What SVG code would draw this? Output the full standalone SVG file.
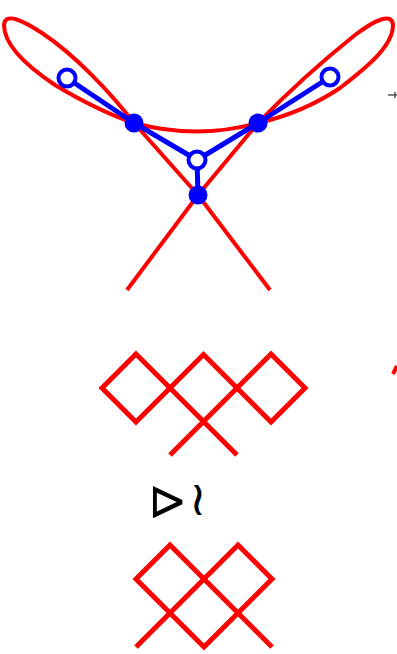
<svg xmlns="http://www.w3.org/2000/svg" width="397" height="654" viewBox="0 0 397 654">
<style>
.red{fill:none;stroke:#ff0000;stroke-width:4;stroke-linejoin:round}
.redd{fill:none;stroke:#ff0000;stroke-width:5;stroke-linejoin:miter}
.edge{stroke:#0000ff;stroke-width:5;fill:none}
.full{fill:#0000ff}
.open{fill:#ffffff;stroke:#0000ff;stroke-width:4}
.sym{font-family:"DejaVu Sans",sans-serif;fill:#000000}
</style>
<rect width="397" height="654" fill="#ffffff"/>
<g id="curve-top">
<path class="red" d="M134,123 C110,92 75,55 42,33 C22,20 5,12 4,25 C4,45 25,65 55,85 C85,103 110,115 134,123 Z"/>
<path class="red" d="M258,123 C290,90 330,55 355,35 C375,20 392,12 393,25 C393,45 370,65 340,88 C310,108 280,118 258,123 Z"/>
<path class="red" d="M134,123 Q197,140 258,123"/>
<path class="red" d="M134,123 L198,195 L270,290"/>
<path class="red" d="M258,123 L198,195 L127,290"/>
</g>
<g id="connectors">
<path class="edge" d="M67,78 L134,123 L197,160 L258,123 L330,77 M197,160 L198,195"/>
</g>
<g id="n-left-open"><circle class="open" cx="67" cy="78" r="8.5"/></g>
<g id="n-left"><circle class="full" cx="134" cy="123" r="9.5"/></g>
<g id="n-mid-open"><circle class="open" cx="197" cy="160" r="8.5"/></g>
<g id="n-right"><circle class="full" cx="258" cy="123" r="9.5"/></g>
<g id="n-right-open"><circle class="open" cx="330" cy="77" r="8.5"/></g>
<g id="n-bottom"><circle class="full" cx="198" cy="195" r="9.5"/></g>
<g id="edge-mark">
<path d="M388,95 L397,95 M395,92 L395,98" stroke="#555555" stroke-width="1.5" fill="none"/>
<path d="M393,374 L397,366" stroke="#ff0000" stroke-width="4" fill="none"/>
</g>
<g id="diamonds-top">
<path class="redd" d="M102,388 L136,354 L170,388 L136,422 Z"/>
<path class="redd" d="M237,388 L271,354 L305,388 L271,422 Z"/>
<path class="redd" d="M170,388 L203.5,354.5 L237,388"/>
<path class="redd" d="M170,388 L237,455 M237,388 L170,455"/>
</g>
<g id="label">
<text class="sym" x="147.5" y="519" font-size="54" transform="translate(152,0) scale(0.87,1) translate(-152,0)">⊳</text>
<text class="sym" x="189" y="515" font-size="48">≀</text>
</g>
<g id="diamonds-bottom">
<path class="redd" d="M136,647 L238,545 L272,579 L238,613"/>
<path class="redd" d="M272,647 L170,545 L136,579 L170,613"/>
<path class="redd" d="M170,613 L204,647 L238,613"/>
</g>
</svg>
